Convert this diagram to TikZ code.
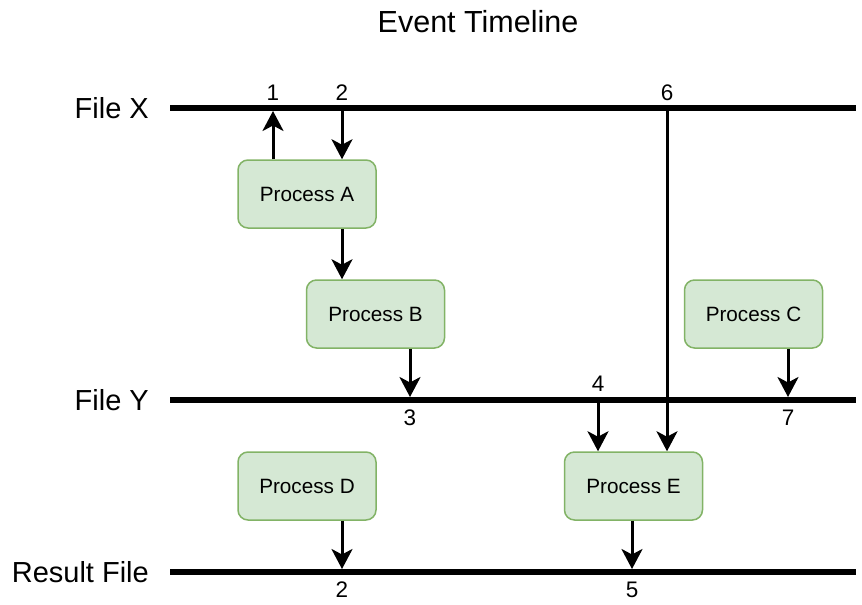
\documentclass[tikz,border=0pt]{standalone}
\usepackage{fontspec}
\setmainfont{Liberation Sans}
\usetikzlibrary{arrows.meta}
\definecolor{procfill}{HTML}{D5E8D4}
\definecolor{procline}{HTML}{82B366}
\tikzset{
  procbox/.style={draw=procline, fill=procfill, line width=1.5pt, rounded corners=10pt,
    minimum width=138pt, minimum height=68pt, inner sep=0pt, font=\fontsize{20.7}{24}\selectfont},
  timeline/.style={line width=6pt},
  flow/.style={line width=3pt, -{Stealth[length=20pt, width=21pt, inset=5.5pt]}},
  filelabel/.style={anchor=east, inner sep=0pt, font=\fontsize{29}{34}\selectfont},
  tick/.style={inner sep=0pt, font=\fontsize{22.5}{26}\selectfont},
}
\begin{document}
\begin{tikzpicture}[x=1pt, y=-1pt]
\useasboundingbox (0,0) rectangle (862,605);

% title
\node[inner sep=0pt, font=\fontsize{30.5}{36}\selectfont] (title) at (478,22) {Event Timeline};

% file timelines
\coordinate (xs) at (170,108); \coordinate (xe) at (856,108);
\coordinate (ys) at (170,400); \coordinate (ye) at (856,400);
\coordinate (rs) at (170,572); \coordinate (re) at (856,572);
\draw[timeline] (xs) -- (xe);
\draw[timeline] (ys) -- (ye);
\draw[timeline] (rs) -- (re);
\node[filelabel] (lx) at (149,108) {File X};
\node[filelabel] (ly) at (149,400) {File Y};
\node[filelabel] (lr) at (149,572) {Result File};

% processes
\node[procbox] (A) at (307,194) {\raisebox{-1pt}{Process A}};
\node[procbox] (B) at (375.5,314) {\raisebox{-1pt}{Process B}};
\node[procbox] (C) at (753.5,314) {\raisebox{-1pt}{Process C}};
\node[procbox] (D) at (307,486) {\raisebox{-1pt}{Process D}};
\node[procbox] (E) at (633.5,486) {\raisebox{-1pt}{Process E}};

% event points on the timelines
\coordinate (e1) at (273,111);
\coordinate (e2) at (342,105);
\coordinate (e6) at (667,105);
\coordinate (e3) at (410,397);
\coordinate (e4) at (598,403);
\coordinate (e7) at (788,397);
\coordinate (r2) at (342,569);
\coordinate (r5) at (632,569);

% event numbers
\node[tick] (n1) at (273,93) {1};
\node[tick] (n2) at (342,93) {2};
\node[tick] (n6) at (667,93) {6};
\node[tick] (n3) at (410,418) {3};
\node[tick] (n4) at (598,384) {4};
\node[tick] (n7) at (788,418) {7};
\node[tick] (m2) at (342,590) {2};
\node[tick] (n5) at (632,590) {5};

% flows
\draw[flow] (A.north -| e1) -- (e1);
\draw[flow] (e2) -- (A.north -| e2);
\draw[flow] (A.south -| e2) -- (B.north -| e2);
\draw[flow] (B.south -| e3) -- (e3);
\draw[flow] (C.south -| e7) -- (e7);
\draw[flow] (e4) -- (E.north -| e4);
\draw[flow] (e6) -- (E.north -| e6);
\draw[flow] (D.south -| r2) -- (r2);
\draw[flow] (E.south -| r5) -- (r5);
\end{tikzpicture}
\end{document}
